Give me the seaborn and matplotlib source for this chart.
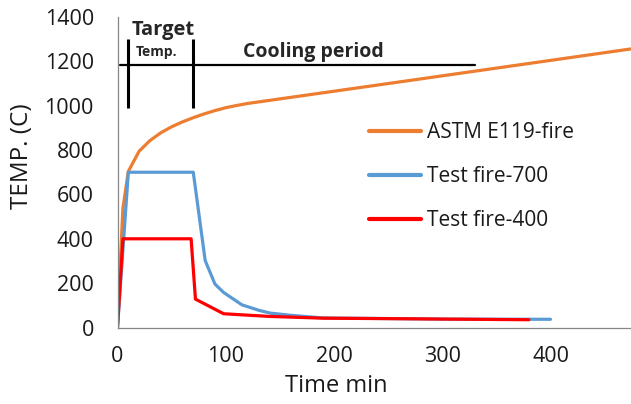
import matplotlib
matplotlib.use("Agg")
import matplotlib.pyplot as plt
import pandas as pd
import seaborn as sns

# ASTM E119 standard fire curve (min, deg C)
astm_time = [0, 5, 10, 20, 30, 40, 50, 60, 70, 80, 90, 100, 110, 120, 240, 480]
astm_temp = [20, 538, 704, 795, 843, 878, 905, 927, 946, 963, 978, 991, 1001, 1010, 1093, 1260]

# Test fire with 700 C target
t700_time = [0, 10, 70, 81, 90, 98, 115, 131, 141, 160, 190, 300, 400]
t700_temp = [0, 700, 700, 302, 196, 158, 102, 77, 65, 55, 43, 38, 37]

# Test fire with 400 C target
t400_time = [0, 5, 68, 72, 98, 140, 190, 250, 300, 380]
t400_temp = [0, 400, 400, 128, 62, 50, 42, 40, 38, 35]

series_names = ["ASTM E119-fire", "Test fire-700", "Test fire-400"]
series_colors = ["#ED7D31", "#5B9BD5", "#FF0000"]

y_ticks = [0, 200, 400, 600, 800, 1000, 1200, 1400]
x_ticks = [0, 100, 200, 300, 400]

frames = []
for name, t, v in zip(series_names,
                      [astm_time, t700_time, t400_time],
                      [astm_temp, t700_temp, t400_temp]):
    frames.append(pd.DataFrame({"Time": t, "Temp": v, "Series": name}))
df = pd.concat(frames, ignore_index=True)

sns.set_style("white")
plt.rcParams["font.family"] = ["Open Sans", "DejaVu Sans"]

TXT = "#1a1a1a"
W, H = 631, 404
fig = plt.figure(figsize=(W / 100, H / 100), dpi=100)
ax = fig.add_axes([117.5 / W, 1 - 327.5 / H, (W - 117.5) / W, (327.5 - 17) / H])

sns.lineplot(data=df, x="Time", y="Temp", hue="Series", hue_order=series_names,
             palette=dict(zip(series_names, series_colors)), sort=False,
             estimator=None, linewidth=2.3, ax=ax, legend=True)

ax.set_xlim(0, (W - 117.5) / 1.0825)
ax.set_ylim(0, 1400)
ax.set_xticks(x_ticks)
ax.set_yticks(y_ticks)
ax.tick_params(axis="both", labelsize=15.5, labelcolor=TXT, length=5,
               width=0.9, direction="out", color="#868686")
ax.tick_params(axis="y", pad=12)
ax.tick_params(axis="x", pad=8)
ax.set_xlabel("Time min", fontsize=17, color=TXT)
ax.set_ylabel("TEMP. (C)", fontsize=17.5, color=TXT)
ax.xaxis.set_label_coords((336 - 117.5) / (W - 117.5), -(386 - 327.5) / 310.5)
ax.xaxis.label.set_va("center")
ax.yaxis.set_label_coords((22 - 117.5) / (W - 117.5), (327.5 - 156) / 310.5)
ax.yaxis.label.set_va("center")
for side in ["top", "right"]:
    ax.spines[side].set_visible(False)
for side in ["left", "bottom"]:
    ax.spines[side].set_color("#868686")
    ax.spines[side].set_linewidth(0.9)

# Phase annotations: target-temperature hold and cooling period
ax.plot([10, 10], [990, 1300], color="black", lw=2.2, solid_capstyle="butt")
ax.plot([70, 70], [990, 1300], color="black", lw=2.2, solid_capstyle="butt")
ax.plot([2, 330], [1185, 1185], color="black", lw=1.6)
ax.text(13, 1340, "Target", fontsize=14.5, fontweight="bold", va="center", ha="left")
ax.text(17, 1242, "Temp.", fontsize=10, fontweight="bold", va="center", ha="left")
ax.text(180.5, 1242, "Cooling period", fontsize=14, fontweight="bold",
        va="center", ha="center")

leg = ax.legend(loc="upper left", bbox_to_anchor=(369 / W, 1 - 122 / H),
                bbox_transform=fig.transFigure, frameon=False, fontsize=15,
                handlelength=2.5, handletextpad=0.3, labelspacing=1.11,
                borderpad=0, borderaxespad=0, title=None)
for h in leg.get_lines():
    h.set_linewidth(3)
for t in leg.get_texts():
    t.set_color(TXT)

fig.savefig("out.png", dpi=100)
